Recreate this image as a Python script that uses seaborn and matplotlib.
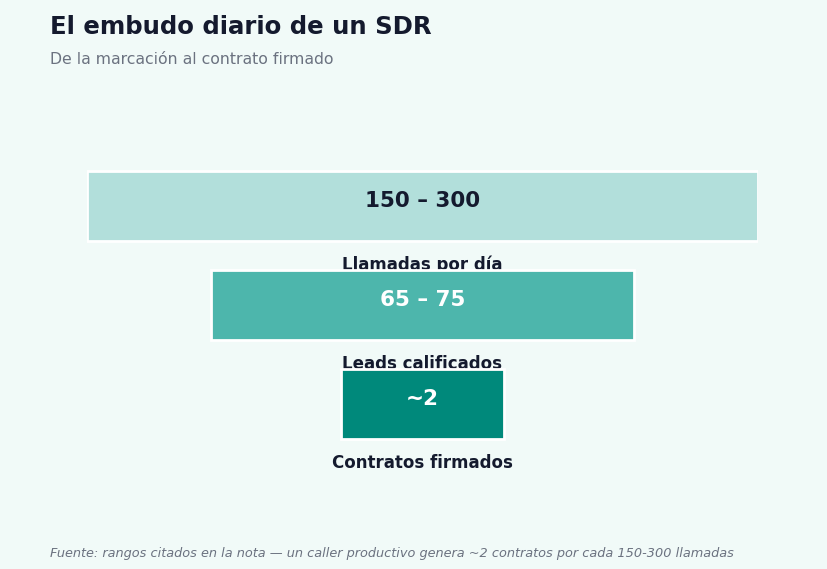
import matplotlib
matplotlib.use("Agg")
import matplotlib.pyplot as plt
import seaborn as sns
import pandas as pd

stages = ["Llamadas por día", "Leads calificados", "Contratos firmados"]
value_labels = ["150 – 300", "65 – 75", "~2"]
widths = [100, 63, 24.3]
colors = ["#b2dfdb", "#4db6ac", "#00897b"]
value_colors = ["#141a2e", "#ffffff", "#ffffff"]

title = "El embudo diario de un SDR"
subtitle = "De la marcación al contrato firmado"
footer = "Fuente: rangos citados en la nota — un caller productivo genera ~2 contratos por cada 150-300 llamadas"

BG = "#f1faf8"
DARK = "#141a2e"
GREY = "#6b7280"

sns.set_theme(style="white")
plt.rcParams["font.family"] = ["DejaVu Sans"]

df = pd.DataFrame({"stage": stages, "width": widths, "label": value_labels})

fig = plt.figure(figsize=(8.28, 5.69), dpi=100, facecolor=BG)
ax = fig.add_axes([87 / 828, 0.1334, 671 / 828, 0.6611])
ax.set_facecolor(BG)

ypos = list(range(len(df)))
ax.barh(ypos, df["width"], left=-df["width"] / 2, height=0.707,
        color=colors, edgecolor="white", linewidth=2, zorder=3)

for i, row in df.iterrows():
    ax.text(0, i - 0.05, row["label"], ha="center", va="center",
            fontsize=15.5, fontweight="bold", color=value_colors[i], zorder=4)
    ax.text(0, i + 0.596, row["stage"], ha="center", va="center",
            fontsize=12, fontweight="bold", color=DARK, zorder=2)

ax.set_xlim(-50.0, 50.0)
ax.set_ylim(2.9, -0.9)
ax.axis("off")

fig.text(50 / 828, 1 - 27 / 569, title, fontsize=17.6, fontweight="bold",
         color=DARK, ha="left", va="center")
fig.text(50 / 828, 1 - 60 / 569, subtitle, fontsize=11.3, color=GREY,
         ha="left", va="center")
fig.text(50 / 828, 1 - 553 / 569, footer, fontsize=9.3, style="italic",
         color=GREY, ha="left", va="center")

fig.savefig("out.png", dpi=100, facecolor=BG)
